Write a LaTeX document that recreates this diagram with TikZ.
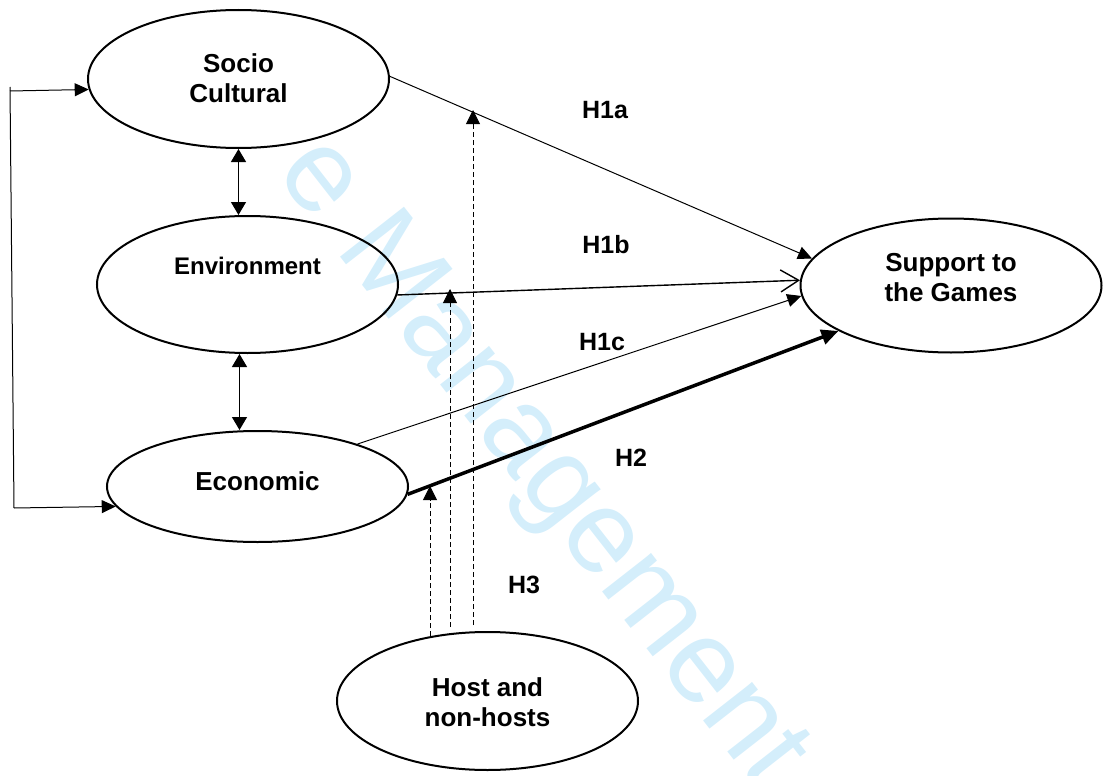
\documentclass[tikz,border=0pt]{standalone}
\usepackage{fontspec}
\setmainfont{Liberation Sans}
\usetikzlibrary{arrows.meta,shapes.geometric}
\definecolor{wmark}{RGB}{212,238,251}
\begin{document}
\begin{tikzpicture}[x=1pt,y=-1pt,
  construct/.style={draw, ellipse, line width=2pt, inner sep=0pt},
  caption/.style={font=\fontsize{26}{30}\selectfont\bfseries, align=center, inner sep=0pt},
  hyp/.style={font=\fontsize{25}{30}\selectfont\bfseries, inner sep=0pt},
  tip/.style={-{Triangle[length=14pt,width=13pt]}},
  both/.style={{Triangle[length=13pt,width=15pt]}-{Triangle[length=13pt,width=15pt]}, line width=1.3pt},
  moderator/.style={dash pattern=on 5pt off 3pt, line width=0.9pt, -{Triangle[length=14pt,width=14pt]}},
]
\useasboundingbox (0,0) rectangle (1104,776);

% faint journal watermark running diagonally behind the model
\begin{scope}
  \clip (0,0) rectangle (1104,776);
  \node[anchor=base west, rotate=-52, inner sep=0pt, text=wmark,
        font=\fontsize{118}{118}\selectfont] (wm) at (274,172) {e Management};
\end{scope}

% constructs
\node[construct, minimum width=301pt, minimum height=138pt] (soc) at (238.5,79) {};
\node[construct, minimum width=301pt, minimum height=137pt] (env) at (247.5,284.5) {};
\node[construct, minimum width=301pt, minimum height=111pt] (eco) at (257.5,486.5) {};
\node[construct, minimum width=301pt, minimum height=134pt] (sup) at (951,285.5) {};
\node[construct, minimum width=301pt, minimum height=138pt] (host) at (487.5,701) {};

\node[caption] (socT) at (238.5,78.5) {Socio\\Cultural};
\node[caption, font=\fontsize{24}{30}\selectfont\bfseries] (envT) at (247.5,266) {Environment};
\node[caption] (ecoT) at (257.5,481) {Economic};
\node[caption] (supT) at (951,278) {Support to\\the Games};
\node[caption] (hostT) at (487.5,702) {Host and\\non-hosts};

% correlations between the three impact dimensions
\draw[both] (soc.south) -- (soc.south |- env.north);
\draw[both] ([xshift=1pt]soc.south |- env.south) -- ([xshift=1pt]soc.south |- eco.north);

% bracket linking socio-cultural and economic
\coordinate (fbTop) at (10,87);
\coordinate (fbS) at (10,91);
\coordinate (fbB) at (14,508);
\draw[line width=1pt] (fbTop) -- (fbB);
\draw[line width=1pt, tip] (fbS) -- (soc.184.6);
\draw[line width=1pt, tip] (fbB) -- (eco.188);

% hypothesised paths
\draw[line width=1pt, tip] (soc.1) -- (sup.169);
\draw[line width=1.4pt, -{Straight Barb[length=18pt,width=22pt]}] (env.-4) -- (sup.178.5);
\draw[line width=1pt, tip] (eco.23.5) -- (sup.184.6);
\draw[line width=3.5pt, -{Triangle[length=17pt,width=15pt]}] (eco.-3.9) -- (sup.202.4);

% moderating effect of hosting
\coordinate (h1) at (430,636);
\coordinate (h2) at (450,627);
\coordinate (h3) at (473,625);
\coordinate (m1) at (430,486);
\coordinate (m2) at (450,289);
\coordinate (m3) at (473,110);
\draw[moderator] (h1) -- (m1);
\draw[moderator] (h2) -- (m2);
\draw[moderator] (h3) -- (m3);

% path labels
\node[hyp] (l1a) at (605,110) {H1a};
\node[hyp] (l1b) at (606,245) {H1b};
\node[hyp] (l1c) at (602,342) {H1c};
\node[hyp] (l2) at (631,458) {H2};
\node[hyp] (l3) at (524,585) {H3};
\end{tikzpicture}
\end{document}
